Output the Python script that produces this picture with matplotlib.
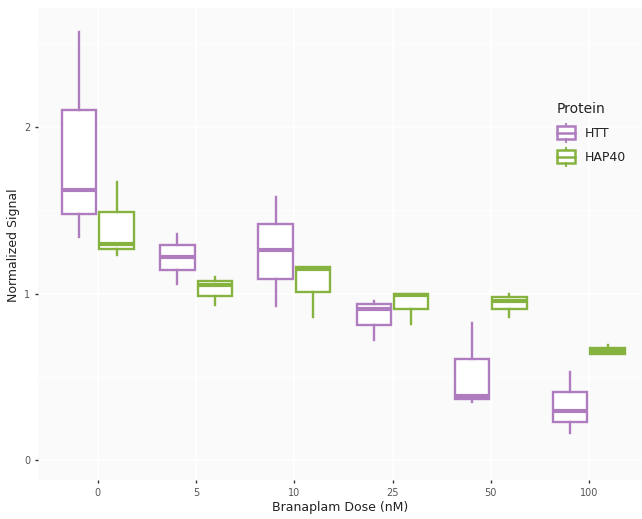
import matplotlib
matplotlib.use("Agg")
import matplotlib.pyplot as plt
from matplotlib.legend_handler import HandlerBase
from matplotlib.patches import Rectangle
from matplotlib.lines import Line2D

# dose categories
doses = ['0', '5', '10', '25', '50', '100']

# box stats: whisker low, Q1, median, Q3, whisker high
htt_lo = [1.34, 1.06, 0.925, 0.72, 0.35, 0.165]
htt_q1 = [1.48, 1.14, 1.09, 0.81, 0.365, 0.23]
htt_med = [1.62, 1.22, 1.26, 0.91, 0.385, 0.295]
htt_q3 = [2.10, 1.29, 1.42, 0.935, 0.605, 0.41]
htt_hi = [2.57, 1.36, 1.58, 0.955, 0.82, 0.53]

hap_lo = [1.23, 0.93, 0.86, 0.815, 0.86, 0.635]
hap_q1 = [1.27, 0.985, 1.01, 0.905, 0.91, 0.635]
hap_med = [1.30, 1.05, 1.15, 0.99, 0.955, 0.655]
hap_q3 = [1.49, 1.075, 1.16, 1.00, 0.98, 0.67]
hap_hi = [1.67, 1.10, 1.16, 1.00, 0.995, 0.69]

c_htt = '#b07cc0'
c_hap = '#86b340'


def make_stats(lo, q1, med, q3, hi):
    return [dict(whislo=a, q1=b, med=c, q3=d, whishi=e, fliers=[])
            for a, b, c, d, e in zip(lo, q1, med, q3, hi)]


fig = plt.figure(figsize=(6.42, 5.19), dpi=100)
ax = fig.add_axes([38 / 642, 1 - 480 / 519, 604 / 642, 472 / 519])
ax.set_facecolor('#fafafa')

pos = list(range(len(doses)))
for stats, off, col in [(make_stats(htt_lo, htt_q1, htt_med, htt_q3, htt_hi), -0.19, c_htt),
                        (make_stats(hap_lo, hap_q1, hap_med, hap_q3, hap_hi), 0.19, c_hap)]:
    ax.bxp(stats, positions=[p + off for p in pos], widths=0.35, showcaps=False,
           patch_artist=True,
           boxprops=dict(facecolor='white', edgecolor=col, linewidth=1.7),
           whiskerprops=dict(color=col, linewidth=1.7),
           medianprops=dict(color=col, linewidth=3, solid_capstyle='butt'),
           manage_ticks=False)

ax.set_xlim(-0.61, 5.54)
ax.set_ylim(-0.12, 2.715)
ax.set_xticks(pos)
ax.set_xticklabels(doses)
ax.set_yticks([0, 1, 2])
ax.set_yticks([0.5, 1.5, 2.5], minor=True)
ax.set_xticks([], minor=True)
ax.grid(True, which='major', color='white', linewidth=1.2)
ax.grid(True, which='minor', axis='y', color='white', linewidth=0.6)
ax.set_axisbelow(True)
for s in ax.spines.values():
    s.set_visible(False)
ax.tick_params(axis='both', which='major', length=2.5, width=1, color='#333333',
               labelsize=7, labelcolor='#555555', pad=3)
ax.tick_params(axis='y', which='minor', length=0)

fig.text(340 / 642, 1 - 507 / 519, 'Branaplam Dose (nM)', ha='center', va='center',
         fontsize=9, color='#222222')
fig.text(14 / 642, 1 - 245 / 519, 'Normalized Signal', ha='center', va='center',
         rotation=90, fontsize=9, color='#222222')


class BoxKey(HandlerBase):
    # small boxplot glyph for the legend key
    def create_artists(self, legend, orig, xd, yd, w, h, fontsize, trans):
        col = orig.get_color()
        cx = -xd + w / 2
        cy = -yd + h / 2
        bw = 13.0
        bh = 9.0
        rect = Rectangle((cx - bw / 2, cy - bh / 2), bw, bh, facecolor='white',
                         edgecolor=col, linewidth=1.8, transform=trans)
        med = Line2D([cx - bw / 2, cx + bw / 2], [cy, cy], color=col,
                     linewidth=1.8, transform=trans)
        wt = Line2D([cx, cx], [cy + bh / 2, cy + bh / 2 + 2], color=col,
                    linewidth=1.4, transform=trans)
        wb = Line2D([cx, cx], [cy - bh / 2 - 2, cy - bh / 2], color=col,
                    linewidth=1.4, transform=trans)
        return [rect, med, wt, wb]


h1 = Line2D([], [], color=c_htt)
h2 = Line2D([], [], color=c_hap)
leg = ax.legend([h1, h2], ['HTT', 'HAP40'], title='Protein', loc='upper left',
                bbox_to_anchor=(545 / 642, 1 - 91 / 519), bbox_transform=fig.transFigure,
                frameon=False, fontsize=9, title_fontsize=10, handlelength=1.6,
                handleheight=1.5, handletextpad=0.7, labelspacing=0.7,
                handler_map={Line2D: BoxKey()})
leg._legend_box.align = 'left'
leg.get_title().set_color('#222222')
for t in leg.get_texts():
    t.set_color('#222222')

plt.savefig('out.png', dpi=100)
